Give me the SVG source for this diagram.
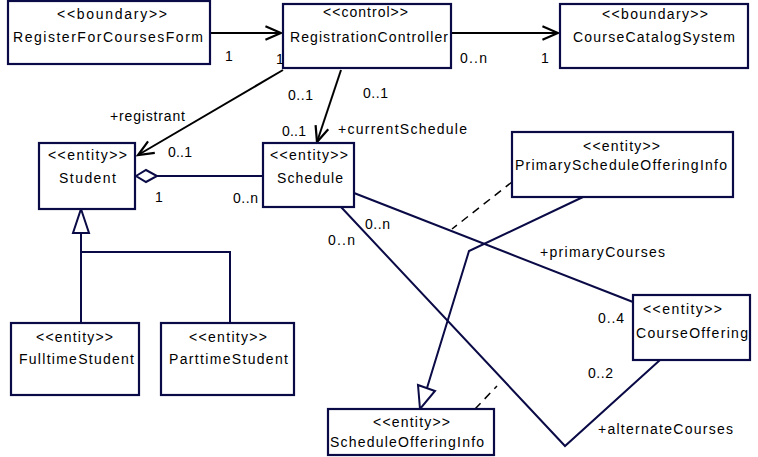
<svg xmlns="http://www.w3.org/2000/svg" width="758" height="457" viewBox="0 0 758 457">
<style>
.box{fill:#fff;stroke:#0a0a46;stroke-width:2.2}
text{font-family:"Liberation Sans",Arial,sans-serif;font-size:14px;fill:#000}
.ln{fill:none;stroke:#0a0a46;stroke-width:2}
.bk{fill:none;stroke:#000;stroke-width:2}
.dash{fill:none;stroke:#000;stroke-width:1.5;stroke-dasharray:8 6}
.tri{fill:#fff;stroke:#0a0a46;stroke-width:2}
</style>
<defs>
<marker id="open" markerUnits="userSpaceOnUse" markerWidth="20" markerHeight="20" viewBox="-16 -8 18 16" refX="0" refY="0" orient="auto">
<path d="M-14,-6 L0,0 L-14,6" fill="none" stroke="#000" stroke-width="2"/>
</marker>
</defs>
<rect width="758" height="457" fill="#fff"/>
<g id="connectors">
<line class="bk" x1="210" y1="33" x2="281" y2="33" marker-end="url(#open)"/>
<line class="bk" x1="451" y1="33" x2="558" y2="33" marker-end="url(#open)"/>
<line class="bk" x1="283" y1="70" x2="138" y2="155" marker-end="url(#open)"/>
<line class="bk" x1="341" y1="70" x2="317" y2="142" marker-end="url(#open)"/>
<line class="ln" x1="157" y1="176" x2="263" y2="176"/>
<path class="tri" d="M136,176 L146,170 L157,176 L146,182 Z"/>
<polyline class="ln" points="81,233 81,323"/>
<polyline class="ln" points="81,252 230,252 230,323"/>
<path class="tri" d="M81,209 L89,233 L73,233 Z"/>
<line class="ln" x1="354" y1="193" x2="633" y2="302"/>
<polyline class="ln" points="341,207 565,446 660,360"/>
<polyline class="ln" points="583,197 469,251 427,388"/>
<path class="tri" d="M420,409 L418,385 L435,391 Z"/>
<line class="dash" x1="512" y1="182" x2="452" y2="229"/>
<line class="dash" x1="475" y1="409" x2="497" y2="386"/>
</g>
<g id="RegisterForCoursesForm">
<rect class="box" x="8" y="1" width="202" height="63"/>
<text x="57" y="19" textLength="110">&lt;&lt;boundary&gt;&gt;</text>
<text x="13" y="42" textLength="190">RegisterForCoursesForm</text>
</g>
<g id="RegistrationController">
<rect class="box" x="283" y="4" width="168" height="64"/>
<text x="323" y="17" textLength="85">&lt;&lt;control&gt;&gt;</text>
<text x="290" y="42" textLength="158">RegistrationController</text>
</g>
<g id="CourseCatalogSystem">
<rect class="box" x="560" y="4" width="188" height="64"/>
<text x="602" y="19" textLength="106">&lt;&lt;boundary&gt;&gt;</text>
<text x="573" y="42" textLength="162">CourseCatalogSystem</text>
</g>
<g id="Student">
<rect class="box" x="39" y="143" width="96" height="66"/>
<text x="48" y="160" textLength="79">&lt;&lt;entity&gt;&gt;</text>
<text x="59" y="183" textLength="57">Student</text>
</g>
<g id="Schedule">
<rect class="box" x="263" y="143" width="91" height="64"/>
<text x="270" y="160" textLength="78">&lt;&lt;entity&gt;&gt;</text>
<text x="277" y="183" textLength="66">Schedule</text>
</g>
<g id="PrimaryScheduleOfferingInfo">
<rect class="box" x="512" y="132" width="221" height="65"/>
<text x="583" y="151" textLength="77">&lt;&lt;entity&gt;&gt;</text>
<text x="515" y="170" textLength="212">PrimaryScheduleOfferingInfo</text>
</g>
<g id="CourseOffering">
<rect class="box" x="633" y="295" width="117" height="65"/>
<text x="643" y="314" textLength="79">&lt;&lt;entity&gt;&gt;</text>
<text x="636" y="338" textLength="112">CourseOffering</text>
</g>
<g id="ScheduleOfferingInfo">
<rect class="box" x="328" y="409" width="166" height="46"/>
<text x="373" y="427" textLength="77">&lt;&lt;entity&gt;&gt;</text>
<text x="330" y="447" textLength="154">ScheduleOfferingInfo</text>
</g>
<g id="FulltimeStudent">
<rect class="box" x="11" y="323" width="128" height="72"/>
<text x="36" y="342" textLength="77">&lt;&lt;entity&gt;&gt;</text>
<text x="19" y="364" textLength="115">FulltimeStudent</text>
</g>
<g id="ParttimeStudent">
<rect class="box" x="161" y="323" width="133" height="72"/>
<text x="189" y="342" textLength="78">&lt;&lt;entity&gt;&gt;</text>
<text x="169" y="364" textLength="119">ParttimeStudent</text>
</g>
<g id="labels">
<text x="225" y="61">1</text>
<text x="276" y="64">1</text>
<text x="460" y="63" textLength="27">0..n</text>
<text x="541" y="63">1</text>
<text x="110" y="121" textLength="75">+registrant</text>
<text x="288" y="100" textLength="25">0..1</text>
<text x="363" y="98" textLength="25">0..1</text>
<text x="282" y="136" textLength="24">0..1</text>
<text x="338" y="134" textLength="129">+currentSchedule</text>
<text x="168" y="157" textLength="24">0..1</text>
<text x="155" y="202">1</text>
<text x="233" y="203" textLength="25">0..n</text>
<text x="328" y="245" textLength="27">0..n</text>
<text x="365" y="229" textLength="25">0..n</text>
<text x="540" y="257" textLength="125">+primaryCourses</text>
<text x="598" y="323" textLength="26">0..4</text>
<text x="588" y="378" textLength="25">0..2</text>
<text x="598" y="434" textLength="135">+alternateCourses</text>
</g>
</svg>
